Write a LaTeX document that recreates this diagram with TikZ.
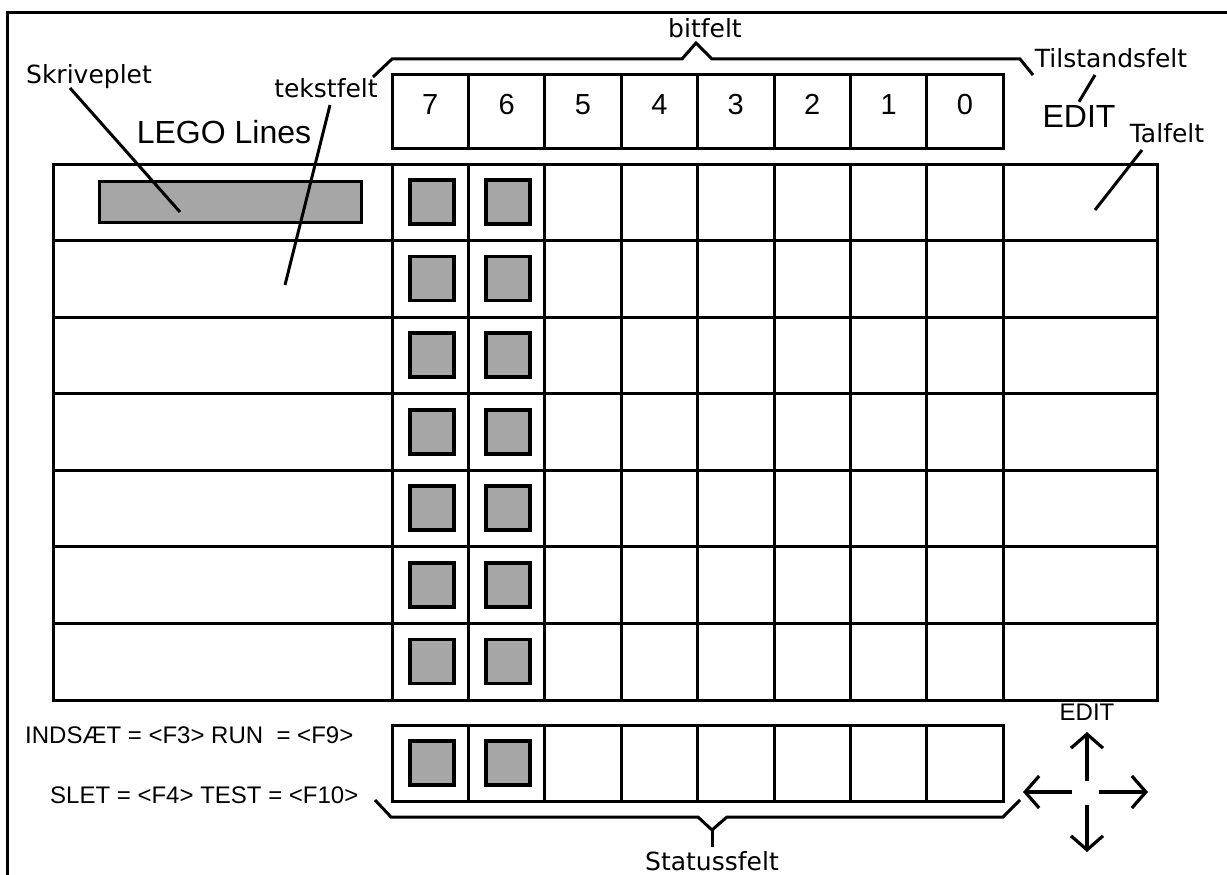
\documentclass[tikz,border=0pt]{standalone}
\usepackage{fontspec}
\setmainfont{Liberation Sans}
\newfontfamily\feltfont{DejaVu Sans}
\usetikzlibrary{arrows.meta}

\tikzset{
  gridline/.style={line width=3pt},
  leader/.style={line width=3pt},
  shadebox/.style={draw,line width=3.6pt,fill=black!35,inner sep=0pt,
    minimum width=44pt,minimum height=44pt},
  feltnavn/.style={font=\feltfont\fontsize{25}{30}\selectfont,inner sep=0pt,anchor=base},
  stortekst/.style={font=\fontsize{32}{38}\selectfont,inner sep=0pt,anchor=base},
  ciffer/.style={font=\fontsize{29}{34}\selectfont,inner sep=0pt,anchor=base},
  tasttekst/.style={font=\fontsize{24}{28}\selectfont,inner sep=0pt,anchor=base west},
  pil/.style={line width=3.2pt,-{Straight Barb[length=14pt,width=32pt]}}
}

\begin{document}
\begin{tikzpicture}[x=1pt,y=-1pt]
\useasboundingbox (0,0) rectangle (1227,875);
\draw[gridline] (1227,13) -- (7,13) -- (7,875);

\draw[gridline] (53,164) rectangle (1157,700);
\foreach \r in {1,...,6}
  \draw[gridline] (53,{164+76.57*\r}) -- (1157,{164+76.57*\r});
\foreach \k in {0,...,8}
  \draw[gridline] ({392+76.4*\k},164) -- ({392+76.4*\k},700);

\draw[gridline] (392,75) rectangle (1003.6,148);
\draw[gridline] (392,725) rectangle (1003.6,801);
\foreach \k in {1,...,7} {
  \draw[gridline] ({392+76.4*\k},75) -- ({392+76.4*\k},148);
  \draw[gridline] ({392+76.4*\k},725) -- ({392+76.4*\k},801);
}
\foreach \b [count=\i from 0] in {7,6,5,4,3,2,1,0}
  \node[ciffer] (bit\b) at ({430.2+76.4*\i},114) {\b};

\foreach \r in {0,...,6} {
  \node[shadebox] (syv\r) at (432,{202+76.57*\r}) {};
  \node[shadebox] (seks\r) at (508,{202+76.57*\r}) {};
}
\node[shadebox] (statsyv) at (432,763) {};
\node[shadebox] (statseks) at (508,763) {};
\node[shadebox,minimum width=262pt,minimum height=41pt] (plet) at (230.5,202) {};

\node[stortekst] (lego) at (224,143) {LEGO Lines};
\node[feltnavn] (skriveplet) at (89,84) {Skriveplet};
\node[feltnavn] (tekstfelt) at (326,97) {tekstfelt};
\node[feltnavn] (bitfelt) at (705,38) {bitfelt};
\node[feltnavn] (tilstand) at (1111,67) {Tilstandsfelt};
\node[stortekst] (edit) at (1079,128) {EDIT};
\node[feltnavn] (talfelt) at (1167,142) {Talfelt};
\node[feltnavn] (statusfelt) at (712,870) {Statussfelt};

\coordinate (pletend) at (180,212);
\coordinate (tekstend) at (285,285);
\coordinate (talend) at (1095,210);
\draw[leader] ([shift={(-19pt,-4pt)}]skriveplet.base) -- (pletend);
\draw[leader] ([shift={(4pt,-8pt)}]tekstfelt.base) -- (tekstend);
\draw[leader] ([shift={(-16pt,-8pt)}]tilstand.base) -- ([yshift=4pt]edit.north);
\draw[leader] ([shift={(-25pt,-8pt)}]talfelt.base) -- (talend);

\draw[leader] (373,77) -- (392,59) -- (682,59) -- (696,43) -- (712,59) -- (1020,59) -- (1033,75);
\draw[leader] (375,800) -- (391,817) -- (698,817) -- (712,830) -- (727,817) -- (1003,817) -- (1020,800);
\draw[leader] (712,830) -- (712,847);

\node[tasttekst] (indsaet) at (25,743) {INDSÆT = <F3> RUN\ \ = <F9>};
\node[tasttekst] (slet) at (50,803) {SLET = <F4> TEST = <F10>};

\node[font=\fontsize{24}{28}\selectfont,inner sep=0pt,anchor=base] (editpil) at (1087,720) {EDIT};
\coordinate (kors) at (1087,792);
\draw[pil] ([yshift=11pt]kors) -- ([yshift=60pt]kors);
\draw[pil] ([yshift=-13pt]kors) -- ([yshift=-60pt]kors);
\draw[pil] ([xshift=-15pt]kors) -- ([xshift=-64pt]kors);
\draw[pil] ([xshift=12pt]kors) -- ([xshift=61pt]kors);
\end{tikzpicture}
\end{document}
